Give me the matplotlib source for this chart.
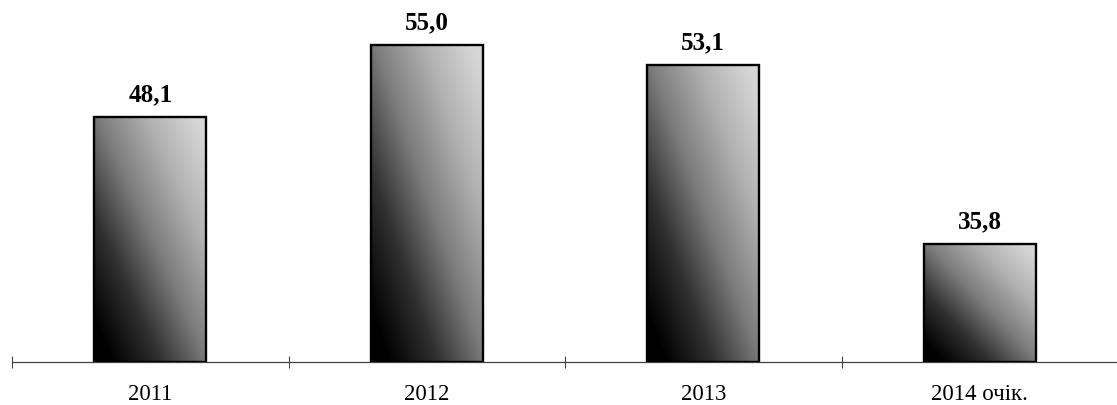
import matplotlib
matplotlib.use('Agg')
import matplotlib.pyplot as plt
import numpy as np
from matplotlib.colors import LinearSegmentedColormap

# Chart data
years = ['2011', '2012', '2013', '2014 очік.']
values = [48.1, 55.0, 53.1, 35.8]
value_labels = ['48,1', '55,0', '53,1', '35,8']


def add_gradient(ax, bar, cmap):
    """Fill a bar with a dark bottom-left to light top-right gradient"""
    x0, y0 = bar.get_x(), bar.get_y()
    w, h = bar.get_width(), bar.get_height()
    u = np.linspace(0, 1, 200)
    v = np.linspace(0, 1, 400)
    U, V = np.meshgrid(u, v)
    g = 0.5 * U + 0.5 * V
    im = ax.imshow(g, extent=(x0, x0 + w, y0, y0 + h), origin='lower',
                   aspect='auto', cmap=cmap, vmin=0.08, vmax=0.95, zorder=2)
    im.set_clip_path(bar)


def main():
    plt.rcParams['font.family'] = ['Liberation Serif', 'DejaVu Serif']

    fig = plt.figure(figsize=(11.17, 4.06), dpi=100)
    ax = fig.add_axes([12 / 1117, 43 / 406, 1106 / 1117, 363 / 406])

    cmap = LinearSegmentedColormap.from_list(
        'bars', ['#000000', '#303030', '#7c7c7c', '#b0b0b0', '#d6d6d6'])

    x = np.arange(len(years))
    ymin = 24.5
    bars = ax.bar(x, np.array(values) - ymin, bottom=ymin, width=0.405,
                  facecolor='none', edgecolor='black', linewidth=1.7, zorder=3)

    for bar, label in zip(bars, value_labels):
        add_gradient(ax, bar, cmap)
        ax.annotate(label, (bar.get_x() + bar.get_width() / 2, bar.get_y() + bar.get_height()),
                    xytext=(0, 12), textcoords='offset points', ha='center', va='baseline',
                    fontsize=18, fontweight='bold')

    ax.set_xlim(-0.5, len(years) - 0.5)
    ax.set_ylim(ymin, 59.4)

    # boundaries between categories get the tick marks, labels sit in the middle
    ax.set_xticks(np.arange(-0.5, len(years), 1.0))
    ax.set_xticklabels([])
    ax.set_xticks(x, minor=True)
    ax.set_xticklabels(years, minor=True, fontsize=16.5)
    ax.tick_params(axis='x', which='major', direction='inout', length=9, width=0.8, color='#444444')
    ax.tick_params(axis='x', which='minor', length=0, pad=15)

    ax.set_yticks([])
    for side in ['left', 'right', 'top']:
        ax.spines[side].set_visible(False)
    ax.spines['bottom'].set_color('#444444')
    ax.spines['bottom'].set_linewidth(0.9)

    plt.savefig('out.png', dpi=100)


if __name__ == '__main__':
    main()
